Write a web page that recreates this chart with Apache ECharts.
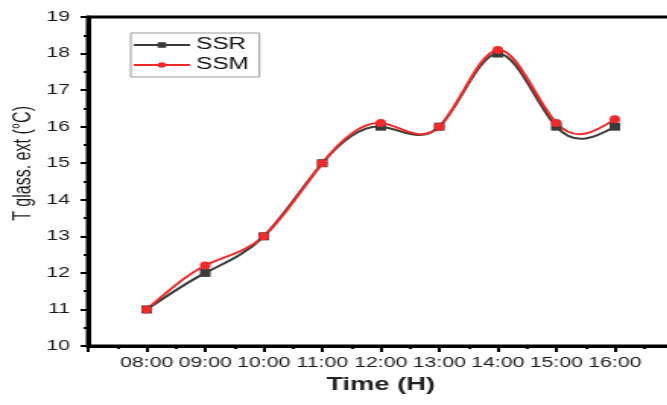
<!DOCTYPE html>
<html>
<head>
<meta charset="utf-8">
<script src="https://cdn.jsdelivr.net/npm/echarts@6/dist/echarts.min.js"></script>
<style>
  html, body { margin: 0; padding: 0; background: #fff; overflow: hidden; }
  /* the source picture is stretched sideways, so the chart is drawn narrow and widened */
  #chart { width: 446px; height: 405px; transform: scaleX(1.52); transform-origin: 0 0; }
</style>
</head>
<body>
<div id="chart"></div>
<script>
const hours = [8, 9, 10, 11, 12, 13, 14, 15, 16];
const tickLabels = ["08:00", "09:00", "10:00", "11:00", "12:00", "13:00", "14:00", "15:00", "16:00"];
const ssr = [11, 12, 13, 15, 16, 16, 18, 16, 16];
const ssm = [11, 12.2, 13, 15, 16.1, 16, 18.1, 16.1, 16.2];

const colSSR = "#3b3b3b";
const colSSM = "#ee2a2a";
const font = "'Liberation Sans', Arial, sans-serif";

const pairs = (ys) => hours.map((h, i) => [h, ys[i]]);

// natural cubic spline: second derivatives at each knot
function splineM(xs, ys) {
  const n = xs.length;
  const M = new Array(n).fill(0);
  const c = new Array(n).fill(0);
  const d = new Array(n).fill(0);
  for (let i = 1; i < n - 1; i++) {
    const h0 = xs[i] - xs[i - 1], h1 = xs[i + 1] - xs[i];
    const a = h0, b = 2 * (h0 + h1), cc = h1;
    const r = 6 * ((ys[i + 1] - ys[i]) / h1 - (ys[i] - ys[i - 1]) / h0);
    const den = b - a * c[i - 1];
    c[i] = cc / den;
    d[i] = (r - a * d[i - 1]) / den;
  }
  for (let i = n - 2; i >= 1; i--) M[i] = d[i] - c[i] * M[i + 1];
  return M;
}

// one bezier piece per segment, mapped through the axes with api.coord
function splineSeries(ys, color) {
  const M = splineM(hours, ys);
  return {
    type: "custom",
    silent: true,
    z: 2,
    data: pairs(ys),
    renderItem: (params, api) => {
      const i = params.dataIndex;
      if (i >= hours.length - 1) return;
      const x0 = hours[i], x1 = hours[i + 1], y0 = ys[i], y1 = ys[i + 1];
      const h = x1 - x0;
      const m0 = (y1 - y0) / h - h * (2 * M[i] + M[i + 1]) / 6;
      const m1 = (y1 - y0) / h + h * (M[i] + 2 * M[i + 1]) / 6;
      const p0 = api.coord([x0, y0]);
      const p1 = api.coord([x0 + h / 3, y0 + m0 * h / 3]);
      const p2 = api.coord([x1 - h / 3, y1 - m1 * h / 3]);
      const p3 = api.coord([x1, y1]);
      return {
        type: "bezierCurve",
        shape: { x1: p0[0], y1: p0[1], cpx1: p1[0], cpy1: p1[1], cpx2: p2[0], cpy2: p2[1], x2: p3[0], y2: p3[1] },
        style: { stroke: color, lineWidth: 2, fill: null }
      };
    }
  };
}

const chart = echarts.init(document.getElementById("chart"));

chart.setOption({
  animation: false,
  grid: {
    left: 58, right: 1, top: 17, bottom: 59,
    show: true, borderColor: "#000", borderWidth: 3
  },
  legend: {
    orient: "vertical",
    left: 86, top: 33,
    padding: [4, 7, 4, 1],
    itemWidth: 37, itemHeight: 7, itemGap: 4,
    borderColor: "#999", borderWidth: 1,
    textStyle: { fontFamily: font, fontSize: 16, color: "#111", padding: [0, 0, 0, -1] },
    data: [
      { name: "SSR", lineStyle: { color: colSSR, width: 2, opacity: 1 } },
      { name: "SSM", lineStyle: { color: colSSM, width: 2, opacity: 1 } }
    ]
  },
  xAxis: {
    type: "value",
    min: 7, max: 17, interval: 1,
    name: "Time (H)",
    nameLocation: "middle",
    nameGap: 30,
    nameTextStyle: { fontFamily: font, fontSize: 18, fontWeight: "bold", color: "#222" },
    splitLine: { show: false },
    axisLine: { lineStyle: { color: "#000", width: 3 } },
    axisTick: { show: true, length: 6, lineStyle: { color: "#000", width: 2 } },
    minorTick: { show: true, splitNumber: 2, length: 3, lineStyle: { color: "#000", width: 2 } },
    axisLabel: {
      fontFamily: font, fontSize: 14, color: "#1a1a1a", margin: 10,
      showMinLabel: true, showMaxLabel: true,
      formatter: (v) => {
        const i = hours.indexOf(v);
        return i >= 0 ? tickLabels[i] : "";
      }
    }
  },
  yAxis: {
    type: "value",
    min: 10, max: 19, interval: 1,
    splitLine: { show: false },
    axisLine: { show: true, lineStyle: { color: "#000", width: 3 } },
    axisTick: { show: true, length: 5, lineStyle: { color: "#000", width: 2 } },
    minorTick: { show: true, splitNumber: 2, length: 3, lineStyle: { color: "#000", width: 2 } },
    axisLabel: { fontFamily: font, fontSize: 14, color: "#1a1a1a", margin: 12 }
  },
  graphic: [{
    type: "text",
    left: 8,
    top: 106,
    rotation: Math.PI / 2,
    style: {
      text: "T glass. ext (°C)",
      font: "16px " + font,
      fill: "#1a1a1a"
    }
  }],
  series: [
    splineSeries(ssr, colSSR),
    splineSeries(ssm, colSSM),
    {
      name: "SSR",
      type: "line",
      z: 3,
      data: pairs(ssr),
      symbol: "rect",
      symbolSize: [7, 8],
      itemStyle: { color: colSSR },
      lineStyle: { color: colSSR, width: 2, opacity: 0 }
    },
    {
      name: "SSM",
      type: "line",
      z: 4,
      data: pairs(ssm),
      symbol: "circle",
      symbolSize: [7, 8],
      itemStyle: { color: colSSM },
      lineStyle: { color: colSSM, width: 2, opacity: 0 }
    }
  ]
});
</script>
</body>
</html>
